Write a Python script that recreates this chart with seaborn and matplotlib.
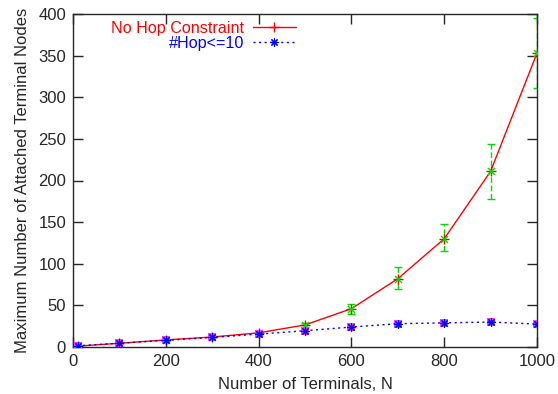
import numpy as np
import pandas as pd
import matplotlib
matplotlib.use("Agg")
import matplotlib.pyplot as plt
import seaborn as sns
from matplotlib.lines import Line2D

terminals = [10, 100, 200, 300, 400, 500, 600, 700, 800, 900, 1000]
no_hop = [1, 4.5, 8.5, 12, 17, 26.5, 46, 82, 130, 211, 353]
no_hop_lo = [0.5, 3.5, 7.5, 11, 15.5, 24, 40, 70, 115, 178, 311]
no_hop_hi = [1.5, 5.5, 9.5, 13, 18.5, 29, 52, 96, 148, 244, 395]
hop10 = [1.5, 4.5, 8, 11.5, 15.5, 19.5, 24, 28, 29, 30, 27.5]

sns.set_style("ticks")
plt.rcParams['font.family'] = ['Liberation Sans', 'DejaVu Sans']

fig = plt.figure(figsize=(5.58, 3.94), dpi=100)
ax = fig.add_axes([73/558, 47/394, (537-73)/558, (347-14)/394])

df = pd.DataFrame({"N": terminals, "nohop": no_hop, "hop": hop10})

ast = (8, 2, 0)

# error bars for no-hop series
err_lo = np.array(no_hop) - np.array(no_hop_lo)
err_hi = np.array(no_hop_hi) - np.array(no_hop)
eb = ax.errorbar(terminals, no_hop, yerr=[err_lo, err_hi], fmt='none',
                 ecolor='#00dd00', elinewidth=1.0, capsize=3, capthick=1.0, zorder=2)
for lc in eb[2]:
    lc.set_linestyle((0, (4, 2)))

sns.lineplot(data=df, x="N", y="nohop", ax=ax, color='red', lw=1.0,
             marker='+', markersize=7, markeredgewidth=1.0, markeredgecolor='red', zorder=3)
ax.scatter(terminals, no_hop, marker='x', s=25, color='#00dd00', linewidths=1.0, zorder=4)

ax.scatter(terminals, hop10, marker='s', s=40, color='#ee44ee', zorder=5, linewidths=0)
sns.lineplot(data=df, x="N", y="hop", ax=ax, color='blue', lw=1.0, linestyle=(0, (1.5, 2.5)),
             marker=ast, markersize=6, markeredgewidth=0.8, markeredgecolor='blue', zorder=6)

ax.set_xlim(0, 1000)
ax.set_ylim(0, 400)
ax.set_xticks([0, 200, 400, 600, 800, 1000])
ax.set_yticks(range(0, 401, 50))
ax.tick_params(direction='in', top=True, right=True, labelsize=12, length=7, width=1, pad=5)
ax.set_xlabel("Number of Terminals, N", fontsize=12, labelpad=6)
ax.set_ylabel("Maximum Number of Attached Terminal Nodes", fontsize=12, labelpad=6)
for s in ax.spines.values():
    s.set_linewidth(1.0)
    s.set_visible(True)

handles = [Line2D([], [], color='red', lw=1.0, marker='+', markersize=7),
           Line2D([], [], color='blue', lw=1.0, linestyle=(0, (1.5, 2.5)), marker=ast,
                  markersize=6, markeredgewidth=0.8)]
leg = ax.legend(handles, ["No Hop Constraint", "#Hop<=10"], loc='upper right',
                bbox_to_anchor=((296-73)/464, (347-21)/333), frameon=False, markerfirst=False,
                fontsize=11.6, handlelength=2.7, handletextpad=0.5, labelspacing=-0.02,
                borderpad=0, borderaxespad=0)
for t, c in zip(leg.get_texts(), ['red', 'blue']):
    t.set_color(c)
    t.set_ha('right')
leg._legend_box.align = 'right'

fig.savefig("out.png", dpi=100)
